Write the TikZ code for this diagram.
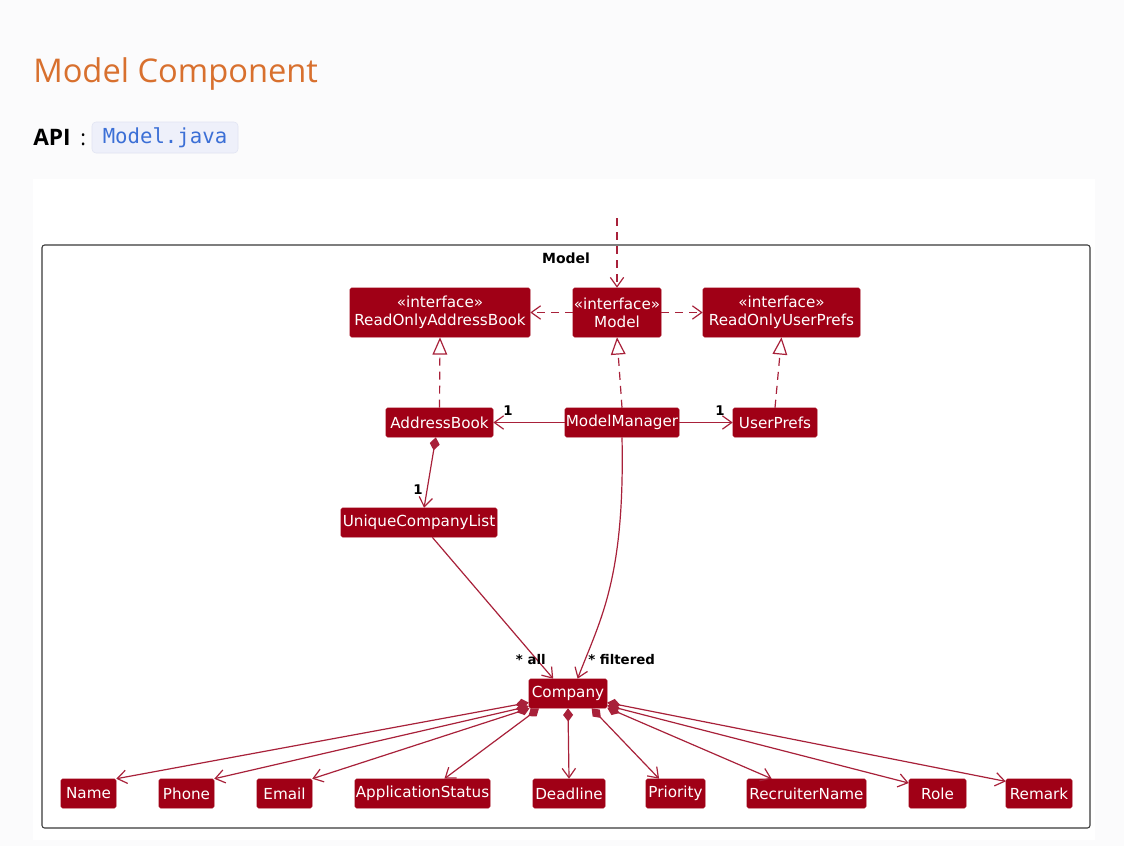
\documentclass[tikz,border=0pt]{standalone}
\usepackage{fontspec}
\setmainfont{DejaVu Sans}
\newfontfamily\titlefont{Open Sans}
\newfontfamily\codefont{DejaVu Sans Mono}
\usetikzlibrary{arrows.meta}
\definecolor{pagebg}{HTML}{FBFBFC}
\definecolor{clsfill}{HTML}{A00016}
\definecolor{edgec}{HTML}{A8213A}
\definecolor{titleor}{HTML}{D8702E}
\definecolor{codebg}{HTML}{EEF0FA}
\definecolor{codebd}{HTML}{E0E3F2}
\definecolor{codefg}{HTML}{3B6FD6}
\definecolor{framec}{HTML}{3A3A3A}
\begin{document}
\begin{tikzpicture}[x=0.75pt,y=-0.75pt,
  cls/.style={fill=clsfill,draw=clsfill,rounded corners=1.2pt,text=white,inner sep=0pt,minimum height=21.75pt,font=\fontsize{11.4}{13.4}\selectfont,align=center},
  iface/.style={cls,minimum height=36.75pt},
  lbl/.style={font=\bfseries\fontsize{10}{12}\selectfont,inner sep=0pt,text=black},
  assoc/.style={draw=edgec,line width=0.9pt,-{Straight Barb[length=7pt,width=10pt]}},
  dep/.style={assoc,dash pattern=on 6pt off 4.5pt},
  realize/.style={draw=edgec,line width=0.9pt,dash pattern=on 6pt off 4.5pt,-{Triangle[open,length=13pt,width=11pt,fill=white]}},
  comp/.style={draw=edgec,line width=0.9pt,{Diamond[length=10pt,width=7.5pt,fill=edgec]}-{Straight Barb[length=7pt,width=10pt]}}
]
\useasboundingbox[fill=pagebg] (0,0) rectangle (1124,846);
\fill[white] (33,179) rectangle (1095,840);

% heading
\node[anchor=base west,inner sep=0pt,text=titleor,font=\titlefont\fontsize{24.5}{28}\selectfont] (title) at (33,82) {Model Component};
\node[anchor=base west,inner sep=0pt,font=\titlefont\bfseries\fontsize{17}{20}\selectfont] (api) at (33,145) {API};
\node[anchor=base west,inner sep=0pt,font=\titlefont\fontsize{16}{19}\selectfont] (colon) at (80,145) {:};
\node[fill=codebg,draw=codebd,rounded corners=3pt,minimum width=109.5pt,minimum height=23.25pt,inner sep=0pt,text=codefg,font=\codefont\fontsize{15.5}{18}\selectfont] (code) at (165,137.5) {Model.java};

% frame
\draw[framec,line width=0.8pt,rounded corners=2pt] (42,245) rectangle (1090,828);
\node[lbl,font=\bfseries\fontsize{10.5}{12}\selectfont] (framelbl) at (566,258) {Model};

% classes
\node[iface,minimum width=135pt] (rab) at (440,312.5) {«interface»\\ReadOnlyAddressBook};
\node[iface,minimum width=66pt] (model) at (617,312.5) {«interface»\\Model};
\node[iface,minimum width=117.75pt] (rup) at (781.5,312.5) {«interface»\\ReadOnlyUserPrefs};
\node[cls,minimum width=80.25pt] (ab) at (439.5,422.5) {AddressBook};
\node[cls,minimum width=85.5pt] (mm) at (622,422.5) {ModelManager};
\node[cls,minimum width=63pt] (up) at (775,422.5) {UserPrefs};
\node[cls,minimum width=117pt] (ucl) at (419,522.5) {UniqueCompanyList};
\node[cls,minimum width=58.5pt] (company) at (568,693.5) {Company};
\node[cls,minimum width=41.25pt] (name) at (88.5,793.5) {Name};
\node[cls,minimum width=41.25pt] (phone) at (186.5,793.5) {Phone};
\node[cls,minimum width=41.25pt] (email) at (284.5,793.5) {Email};
\node[cls,minimum width=101.25pt] (appstat) at (422.5,793.5) {ApplicationStatus};
\node[cls,minimum width=54pt] (deadline) at (569,793.5) {Deadline};
\node[cls,minimum width=44.25pt] (priority) at (675.5,793.5) {Priority};
\node[cls,minimum width=89.25pt] (recruiter) at (806.5,793.5) {RecruiterName};
\node[cls,minimum width=42.75pt] (role) at (937.5,793.5) {Role};
\node[cls,minimum width=49.5pt] (remark) at (1039,793.5) {Remark};

% connectors top
\coordinate (entry) at (617,218);
\draw[dep] (entry) -- (model.north);
\draw[dep] (model.west) -- (rab.east);
\draw[dep] (model.east) -- (rup.west);
\draw[realize] (ab.north) -- (rab.south);
\draw[realize] (mm.north) -- (model.south);
\draw[realize] (up.north) -- (rup.south);
\draw[assoc] (mm.west) -- (ab.east);
\node[lbl] (l1) at (508,411) {1};
\draw[assoc] (mm.east) -- (up.west);
\node[lbl] (l2) at (720,411) {1};
\draw[comp] (ab.256) -- (ucl.71);
\node[lbl] (l3) at (418,490) {1};
\draw[assoc] (ucl.-48) -- (company.135);
\node[lbl,anchor=east] (lall) at (546,660) {* all};
\draw[assoc] (mm.south) .. controls (625,580) and (600,620) .. (company.57);
\node[lbl,anchor=west] (lfilt) at (588,660) {* filtered};

% compositions from Company
\draw[comp] (company.193) -- (name.north east);
\draw[comp] (company.198.4) -- (phone.north east);
\draw[comp] (company.201.3) -- (email.north east);
\draw[comp] (company.207.4) -- (appstat.34);
\draw[comp] (company.south) -- (deadline.north);
\draw[comp] (company.-32.5) -- (priority.138.7);
\draw[comp] (company.-20.7) -- (recruiter.157.8);
\draw[comp] (company.-17.1) -- (role.160);
\draw[comp] (company.-13) -- (remark.160);
\end{tikzpicture}
\end{document}
